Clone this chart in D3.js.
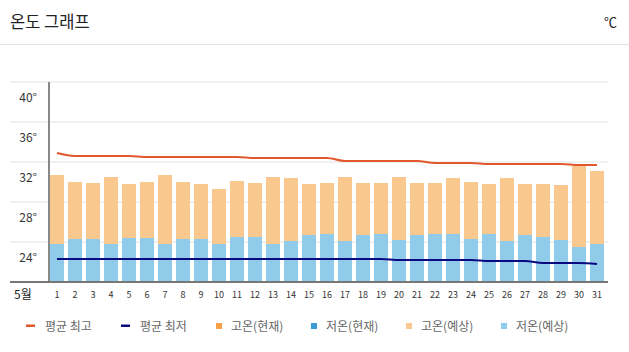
<!DOCTYPE html>
<html>
<head>
<meta charset="utf-8">
<script src="https://cdn.jsdelivr.net/npm/d3@7"></script>
<style>
  body { margin: 0; background: #fff; }
  text { font-family: "Noto Sans CJK KR", "Noto Sans", sans-serif; }
</style>
</head>
<body>
<div id="chart"></div>
<script>
var w = 629;
var h = 352;

// 5월 일자
var days = ["1","2","3","4","5","6","7","8","9","10","11","12","13","14","15","16",
            "17","18","19","20","21","22","23","24","25","26","27","28","29","30","31"];

// 고온(예상)
var highs = [30.7,30.0,29.9,30.5,29.8,30.0,30.7,30.0,29.8,29.3,30.1,29.9,30.5,30.4,29.8,29.9,
             30.5,29.9,29.9,30.5,29.9,29.9,30.4,30.0,29.8,30.4,29.8,29.8,29.7,31.7,31.1];

// 저온(예상)
var lows = [23.8,24.3,24.3,23.8,24.4,24.4,23.8,24.3,24.3,23.8,24.5,24.5,23.8,24.1,24.7,24.8,
            24.1,24.7,24.8,24.2,24.7,24.8,24.8,24.3,24.8,24.1,24.7,24.5,24.2,23.5,23.8];

// 평균 최고 / 평균 최저
var avgHigh = [32.9,32.6,32.6,32.6,32.6,32.5,32.5,32.5,32.5,32.5,32.5,32.4,32.4,32.4,32.4,32.4,
               32.1,32.1,32.1,32.1,32.1,31.9,31.9,31.9,31.8,31.8,31.8,31.8,31.8,31.7,31.7];
var avgLow = [22.3,22.3,22.3,22.3,22.3,22.3,22.3,22.3,22.3,22.3,22.3,22.3,22.3,22.3,22.3,22.3,
              22.3,22.3,22.3,22.2,22.2,22.2,22.2,22.2,22.1,22.1,22.1,21.9,21.9,21.9,21.8];

var yTicks = [24, 28, 32, 36, 40];

var legendLabels = ["평균 최고", "평균 최저", "고온(현재)", "저온(현재)", "고온(예상)", "저온(예상)"];
var legendColors = ["#e2572b", "#0a0a80", "#f7a046", "#3a9ad6", "#f9c88e", "#91cbea"];

var svg = d3.select("#chart")
    .append("svg")
    .attr("width", w)
    .attr("height", h);

// header
svg.append("text")
    .attr("x", 10)
    .attr("y", 28)
    .attr("font-size", 16.5)
    .attr("fill", "#222")
    .text("온도 그래프");

svg.append("text")
    .attr("x", 617)
    .attr("y", 27)
    .attr("text-anchor", "end")
    .attr("font-size", 13)
    .attr("fill", "#222")
    .text("℃");

svg.append("line")
    .attr("x1", 0).attr("x2", w)
    .attr("y1", 44.5).attr("y2", 44.5)
    .attr("stroke", "#e2e2e2");

var x = d3.scaleBand()
    .domain(days)
    .range([48, 606])
    .paddingInner(4 / 18)
    .paddingOuter(2 / 18);

var y = d3.scaleLinear()
    .domain([20, 40])
    .range([282, 82]);

// grid
svg.append("g")
    .selectAll("line")
    .data(yTicks)
    .enter()
    .append("line")
    .attr("x1", 10).attr("x2", 608)
    .attr("y1", function(d) { return y(d); })
    .attr("y2", function(d) { return y(d); })
    .attr("stroke", "#ededed")
    .attr("stroke-width", 1.5);

svg.append("g")
    .selectAll("text")
    .data(yTicks)
    .enter()
    .append("text")
    .attr("x", 37)
    .attr("y", function(d) { return y(d) + 20; })
    .attr("text-anchor", "end")
    .attr("font-size", 12)
    .attr("fill", "#333")
    .text(function(d) { return d + "°"; });

// bars
svg.append("g")
    .selectAll("rect")
    .data(highs)
    .enter()
    .append("rect")
    .attr("x", function(d, i) { return x(days[i]); })
    .attr("y", function(d) { return y(d); })
    .attr("width", x.bandwidth())
    .attr("height", function(d) { return y(20) - y(d); })
    .attr("fill", legendColors[4]);

svg.append("g")
    .selectAll("rect")
    .data(lows)
    .enter()
    .append("rect")
    .attr("x", function(d, i) { return x(days[i]); })
    .attr("y", function(d) { return y(d); })
    .attr("width", x.bandwidth())
    .attr("height", function(d) { return y(20) - y(d); })
    .attr("fill", legendColors[5]);

// lines
var line = d3.line()
    .x(function(d, i) { return x(days[i]) + x.bandwidth() / 2; })
    .y(function(d) { return y(d); })
    .curve(d3.curveMonotoneX);

svg.append("path")
    .attr("d", line(avgHigh))
    .attr("fill", "none")
    .attr("stroke", legendColors[0])
    .attr("stroke-width", 2);

svg.append("path")
    .attr("d", line(avgLow))
    .attr("fill", "none")
    .attr("stroke", legendColors[1])
    .attr("stroke-width", 2);

// axes
svg.append("line")
    .attr("x1", 49).attr("x2", 49)
    .attr("y1", 82).attr("y2", 282)
    .attr("stroke", "#888")
    .attr("stroke-width", 2);

svg.append("line")
    .attr("x1", 10).attr("x2", 608)
    .attr("y1", 282).attr("y2", 282)
    .attr("stroke", "#777")
    .attr("stroke-width", 2);

svg.append("text")
    .attr("x", 14)
    .attr("y", 299)
    .attr("font-size", 12)
    .attr("fill", "#222")
    .text("5월");

svg.append("g")
    .selectAll("text")
    .data(days)
    .enter()
    .append("text")
    .attr("x", function(d) { return x(d) + x.bandwidth() / 2; })
    .attr("y", 298)
    .attr("text-anchor", "middle")
    .attr("font-size", 9)
    .attr("font-family", "DejaVu Sans")
    .attr("fill", "#333")
    .text(function(d) { return d; });

// legend
var legend = svg.append("g")
    .selectAll("g")
    .data(legendLabels)
    .enter()
    .append("g")
    .attr("transform", function(d, i) { return "translate(" + (26 + i * 95) + ",326)"; });

legend.append("rect")
    .attr("x", 0)
    .attr("y", function(d, i) { return i < 2 ? -1.5 : -3; })
    .attr("width", function(d, i) { return i < 2 ? 9 : 6; })
    .attr("height", function(d, i) { return i < 2 ? 2.5 : 6; })
    .attr("fill", function(d, i) { return legendColors[i]; });

legend.append("text")
    .attr("x", function(d, i) { return i < 2 ? 19 : 15; })
    .attr("y", 4.5)
    .attr("font-size", 12)
    .attr("fill", "#666")
    .text(function(d) { return d; });
</script>
</body>
</html>
